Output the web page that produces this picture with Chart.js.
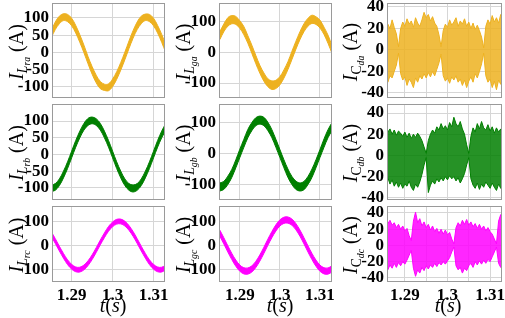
<!DOCTYPE html>
<html><head><meta charset="utf-8">
<script src="https://cdn.jsdelivr.net/npm/chart.js@4"></script>
<style>
body{margin:0;width:505px;height:318px;background:#fff;position:relative;overflow:hidden;font-family:'Liberation Serif',serif;color:#000}
canvas{position:absolute}
.yl{position:absolute;white-space:nowrap;transform:translate(-50%,-50%) rotate(-90deg);font-size:20px;line-height:1;z-index:5}
.s1{font-size:0.68em;position:relative;top:0.3em}
.s2{font-size:0.72em;position:relative;top:0.3em;font-style:italic}
.xl{position:absolute;white-space:nowrap;transform:translate(-50%,-50%);font-size:20px;line-height:1;z-index:5}
</style></head><body>
<div class="yl" style="left:16px;top:52px"><i>I</i><span class="s1"><i>L</i><span class="s2">ra</span></span> (A)</div>
<div class="yl" style="left:16px;top:153px"><i>I</i><span class="s1"><i>L</i><span class="s2">rb</span></span> (A)</div>
<div class="yl" style="left:16px;top:245px"><i>I</i><span class="s1"><i>L</i><span class="s2">rc</span></span> (A)</div>
<div class="yl" style="left:183px;top:52px"><i>I</i><span class="s1"><i>L</i><span class="s2">ga</span></span> (A)</div>
<div class="yl" style="left:183px;top:153px"><i>I</i><span class="s1"><i>L</i><span class="s2">gb</span></span> (A)</div>
<div class="yl" style="left:183px;top:245px"><i>I</i><span class="s1"><i>L</i><span class="s2">gc</span></span> (A)</div>
<div class="yl" style="left:350px;top:52px"><i>I</i><span class="s1">C<span class="s2">da</span></span> (A)</div>
<div class="yl" style="left:350px;top:153px"><i>I</i><span class="s1">C<span class="s2">db</span></span> (A)</div>
<div class="yl" style="left:350px;top:245px"><i>I</i><span class="s1">C<span class="s2">dc</span></span> (A)</div>
<div class="xl" style="left:113px;top:305px"><i>t</i>(<i>s</i>)</div>
<div class="xl" style="left:280px;top:305px"><i>t</i>(<i>s</i>)</div>
<div class="xl" style="left:448px;top:305px"><i>t</i>(<i>s</i>)</div>
<script>
// ---- time bases (s) ----
const T_COARSE = [1.285,1.286,1.287,1.288,1.289,1.290,1.291,1.292,1.293,1.294,1.295,1.296,1.297,1.298,1.299,1.300,1.301,1.302,1.303,1.304,1.305,1.306,1.307,1.308,1.309,1.310,1.311,1.312,1.313];
const T_FINE = [1.285,1.2855,1.286,1.2865,1.287,1.2875,1.288,1.2885,1.289,1.2895,1.29,1.2905,1.291,1.2915,1.292,1.2925,1.293,1.2935,1.294,1.2945,1.295,1.2955,1.296,1.2965,1.297,1.2975,1.298,1.2985,1.299,1.2995,1.3,1.3005,1.301,1.3015,1.302,1.3025,1.303,1.3035,1.304,1.3045,1.305,1.3055,1.306,1.3065,1.307,1.3075,1.308,1.3085,1.309,1.3095,1.31,1.3105,1.311,1.3115,1.312,1.3125,1.313];

// ---- tick labels ----
const X_TICKS = [1.29, 1.3, 1.31];
const X_TICK_LABELS = ['1.29', '1.3', '1.31'];
const X_GRID_C = [1.29, 1.295, 1.3, 1.305, 1.31];
const Y_TICKS_L5 = [-100, -50, 0, 50, 100];
const Y_TICKS_L3 = [-100, 0, 100];
const Y_TICKS_C = [-40, -20, 0, 20, 40];

// ---- inverter-side inductor currents I_Lr (A): upper / lower envelope ----
const LRA_UP = [62,88,105,112,110,99,78,51,21,-12,-41,-66,-84,-92,-91,-77,-56,-29,1,33,63,88,105,111,110,99,78,52,22];
const LRA_LO = [42,66,83,92,89,77,56,29,-1,-33,-63,-88,-105,-110,-111,-99,-78,-51,-21,11,41,66,83,92,89,77,56,29,-1];
const LRB_UP = [-92,-87,-73,-50,-22,10,42,70,93,108,112,107,93,70,42,10,-22,-50,-73,-87,-91,-87,-73,-50,-22,10,42,70,93];
const LRB_LO = [-111,-107,-93,-70,-42,-10,22,50,73,87,92,87,73,50,22,-10,-42,-70,-93,-107,-112,-107,-93,-70,-42,-10,22,50,73];
const LRC_UP = [59,29,-3,-33,-60,-79,-90,-91,-82,-64,-39,-9,23,53,80,99,110,111,102,84,59,29,-3,-33,-60,-79,-90,-91,-82];
const LRC_LO = [39,9,-23,-53,-80,-99,-110,-111,-102,-84,-59,-29,3,33,60,79,90,91,82,64,39,9,-23,-53,-80,-99,-110,-111,-102];

// ---- grid-side inductor currents I_Lg (A) ----
const LGA_UP = [68,93,114,121,118,104,85,55,24,-10,-42,-67,-86,-93,-91,-79,-57,-30,4,37,68,94,112,122,117,106,83,57,23];
const LGA_LO = [42,68,86,94,92,79,58,30,-3,-37,-68,-94,-112,-121,-118,-106,-84,-56,-23,11,42,68,86,95,92,80,59,30,-3];
const LGB_UP = [-95,-90,-73,-51,-20,14,46,78,100,116,121,117,101,77,46,13,-20,-50,-74,-89,-95,-90,-74,-50,-20,13,47,77,100];
const LGB_LO = [-121,-116,-100,-77,-46,-13,20,51,74,90,95,90,74,51,20,-13,-46,-77,-100,-116,-121,-117,-100,-77,-46,-13,20,51,74];
const LGC_UP = [65,33,-1,-33,-61,-82,-93,-94,-85,-66,-39,-7,27,59,87,108,119,120,111,92,65,33,-1,-33,-61,-82,-93,-94,-85];
const LGC_LO = [39,7,-27,-59,-87,-108,-119,-120,-111,-92,-65,-33,1,33,61,82,93,94,85,66,39,7,-27,-59,-87,-108,-119,-120,-111];

// ---- filter capacitor currents I_Cd (A) ----
const CDA_UP = [22,18,24,20,28,21,15,3,20,26,22,29,24,27,21,30,25,22,28,35,30,33,27,31,25,22,14,3,18,24,21,28,23,26,30,22,27,24,29,22,26,20,25,19,23,18,12,2,22,28,24,32,26,30,25,33,28];
const CDA_LO = [-28,-22,-30,-24,-26,-20,-14,-3,-22,-28,-25,-33,-27,-30,-35,-26,-30,-24,-27,-22,-26,-21,-25,-20,-24,-18,-12,-4,-24,-29,-26,-31,-25,-28,-24,-30,-27,-33,-28,-35,-29,-25,-30,-22,-26,-20,-13,-3,-24,-30,-27,-35,-29,-37,-28,-32,-26];
const CDB_UP = [32,26,22,25,20,24,19,23,21,18,22,17,21,16,20,17,21,18,14,8,2,14,20,24,21,27,24,30,25,28,24,31,27,36,30,27,32,25,20,10,2,18,26,22,30,25,32,26,24,29,23,27,21,26,22,25,20];
const CDB_LO = [-20,-24,-21,-27,-23,-29,-25,-30,-26,-31,-27,-29,-24,-30,-33,-27,-30,-25,-18,-9,-2,-35,-28,-24,-27,-22,-25,-21,-24,-20,-23,-19,-22,-20,-24,-21,-26,-22,-17,-9,-2,-22,-28,-31,-26,-32,-27,-30,-25,-28,-31,-26,-30,-33,-27,-31,-29];
const CDC_UP = [30,34,27,31,25,28,22,26,20,24,18,21,12,6,30,41,28,33,24,29,22,26,19,24,17,21,15,20,14,19,13,16,8,2,22,28,24,31,26,32,25,29,23,27,21,26,20,24,18,22,17,14,8,2,30,38,33];
const CDC_LO = [-32,-26,-30,-24,-28,-22,-27,-21,-25,-20,-23,-18,-12,-6,-28,-38,-30,-34,-27,-31,-25,-29,-24,-27,-22,-26,-21,-24,-20,-23,-19,-15,-8,-2,-25,-30,-27,-34,-28,-31,-25,-22,-27,-20,-24,-19,-23,-18,-22,-17,-20,-14,-8,-2,-22,-27,-24];

// ---- layout ----
const COLS = [{L:52,R:165,xMin:1.2852,xMax:1.3128,grid:X_TICKS},
              {L:219,R:332,xMin:1.2848,xMax:1.3130,grid:X_TICKS},
              {L:387,R:502,xMin:1.2858,xMax:1.3128,grid:X_GRID_C}];
const ROWS = [{T:3,B:98},{T:104,B:200},{T:206,B:282}];
const COLORS = ['#EDB120','#007F00','#FF00FF'];
const FILLS = ['rgba(237,177,32,0.85)','rgba(0,127,0,0.85)','rgba(255,0,255,0.85)'];
const TICK_FONT = {family:"'Liberation Serif', serif", size:17, weight:'bold'};

const panels = [
 {c:0,r:0,t:T_COARSE,up:LRA_UP,lo:LRA_LO,yMin:-132,yMax:143,yT:Y_TICKS_L5},
 {c:0,r:1,t:T_COARSE,up:LRB_UP,lo:LRB_LO,yMin:-136,yMax:151,yT:Y_TICKS_L5},
 {c:0,r:2,t:T_COARSE,up:LRC_UP,lo:LRC_LO,yMin:-153,yMax:166,yT:Y_TICKS_L3},
 {c:1,r:0,t:T_COARSE,up:LGA_UP,lo:LGA_LO,yMin:-149,yMax:162,yT:Y_TICKS_L3},
 {c:1,r:1,t:T_COARSE,up:LGB_UP,lo:LGB_LO,yMin:-150,yMax:160,yT:Y_TICKS_L3},
 {c:1,r:2,t:T_COARSE,up:LGC_UP,lo:LGC_LO,yMin:-153,yMax:166,yT:Y_TICKS_L3},
 {c:2,r:0,t:T_FINE,up:CDA_UP,lo:CDA_LO,yMin:-44.7,yMax:43.7,yT:Y_TICKS_C},
 {c:2,r:1,t:T_FINE,up:CDB_UP,lo:CDB_LO,yMin:-42,yMax:48.5,yT:Y_TICKS_C},
 {c:2,r:2,t:T_FINE,up:CDC_UP,lo:CDC_LO,yMin:-45,yMax:48.6,yT:Y_TICKS_C}
];

const boxPlugin = {id:'box', afterDraw(chart){
  const a = chart.chartArea, ctx = chart.ctx;
  ctx.save(); ctx.strokeStyle = '#9a9a9a'; ctx.lineWidth = 1;
  ctx.strokeRect(Math.round(a.left)+0.5, Math.round(a.top)+0.5, Math.round(a.right-a.left)-1, Math.round(a.bottom-a.top)-1);
  ctx.restore();
}};

const YW = 50, PT = 8, PR = 24, PB = 4, XH = 24;
panels.forEach(p => {
  const col = COLS[p.c], row = ROWS[p.r];
  const showX = p.r === 2;
  const xh = showX ? XH : 0;
  const cv = document.createElement('canvas');
  const w = (col.R - col.L) + YW + PR;
  const h = (row.B - row.T) + PT + PB + xh;
  cv.width = w; cv.height = h;
  cv.style.left = (col.L - YW) + 'px';
  cv.style.top = (row.T - PT) + 'px';
  document.body.appendChild(cv);
  const color = COLORS[p.r];
  const fillC = p.c < 2 ? color : FILLS[p.r];
  const up = p.t.map((x,i) => ({x, y:p.up[i]}));
  const lo = p.t.map((x,i) => ({x, y:p.lo[i]}));
  const smooth = p.c < 2 ? 0.35 : 0;
  new Chart(cv, {
    type:'line',
    data:{datasets:[
      {data:up, borderColor:color, backgroundColor:fillC, borderWidth:1, pointRadius:0, fill:'+1', tension:smooth},
      {data:lo, borderColor:color, backgroundColor:fillC, borderWidth:1, pointRadius:0, fill:false, tension:smooth}
    ]},
    options:{
      responsive:false, animation:false, devicePixelRatio:1,
      layout:{padding:{left:0, top:PT, right:PR, bottom:PB}},
      plugins:{legend:{display:false}, tooltip:{enabled:false}},
      scales:{
        x:{type:'linear', min:col.xMin, max:col.xMax,
           afterBuildTicks:s => { s.ticks = col.grid.map(v => ({value:v})); },
           afterFit:s => { s.height = xh; s.paddingLeft = 0; s.paddingRight = 0; s.paddingTop = 0; s.paddingBottom = 0; },
           grid:{color:'#d6d6d6', drawTicks:false, lineWidth:1},
           border:{display:false},
           ticks:{display:showX, autoSkip:false, maxRotation:0, padding:3, color:'#000', font:TICK_FONT,
             callback:(v) => { const k = X_TICKS.findIndex(t => Math.abs(t - v) < 1e-6); return k < 0 ? '' : X_TICK_LABELS[k]; }}
        },
        y:{type:'linear', min:p.yMin, max:p.yMax,
           afterBuildTicks:s => { s.ticks = p.yT.map(v => ({value:v})); },
           afterFit:s => { s.width = YW; s.paddingTop = 0; s.paddingBottom = 0; s.paddingLeft = 0; s.paddingRight = 0; },
           grid:{color:'#d6d6d6', drawTicks:false, lineWidth:1},
           border:{display:false},
           ticks:{autoSkip:false, padding:3, color:'#000', font:TICK_FONT, callback:(v) => String(v)}
        }
      }
    },
    plugins:[boxPlugin]
  });
});
</script>
</body></html>
